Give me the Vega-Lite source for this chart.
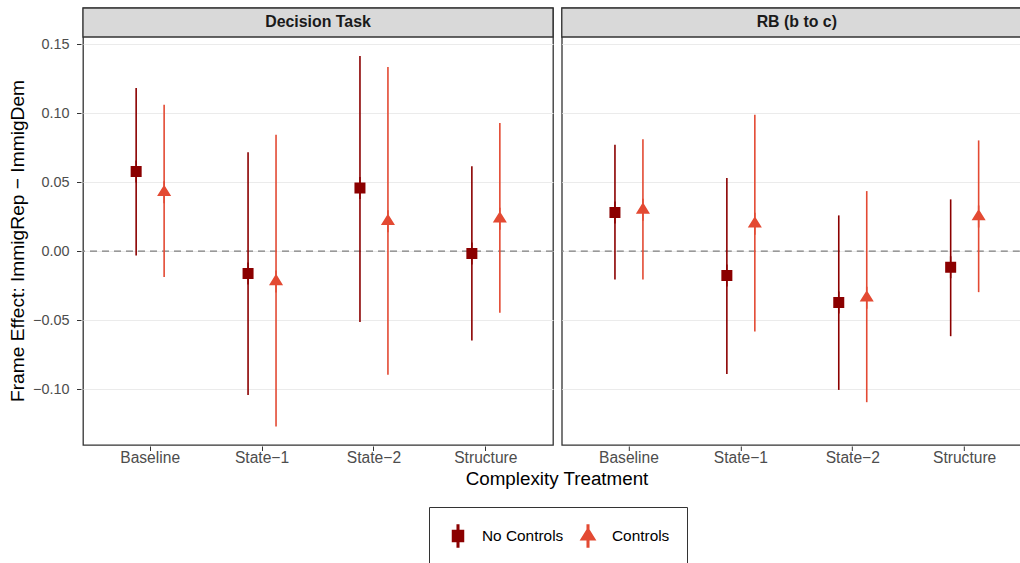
{
  "$schema": "https://vega.github.io/schema/vega-lite/v6.json",
  "padding": {"left": 8, "top": 6, "right": 0, "bottom": 0},
  "background": "white",
  "spacing": 4.8,
  "config": {
    "font": "Liberation Sans",
    "view": {"stroke": "#333333", "strokeWidth": 1.3},
    "axis": {"titleFontWeight": "normal", "titleColor": "#000000", "labelColor": "#4D4D4D", "tickColor": "#333333", "tickSize": 4.5, "domain": false},
    "legend": {"orient": "none", "legendX": 346, "legendY": 499, "direction": "horizontal", "strokeColor": "#333333", "padding": 17, "labelFontSize": 15.4, "labelColor": "#000000", "symbolSize": 484, "columnPadding": 12, "labelOffset": 12}
  },
  "data": {
    "values": [
      {"panel": "Decision Task", "treatment": "Baseline", "model": "No Controls", "est": 0.0577, "lo": -0.0031, "hi": 0.1181},
      {"panel": "Decision Task", "treatment": "Baseline", "model": "Controls", "est": 0.0426, "lo": -0.0188, "hi": 0.106},
      {"panel": "Decision Task", "treatment": "State−1", "model": "No Controls", "est": -0.0162, "lo": -0.1041, "hi": 0.0717},
      {"panel": "Decision Task", "treatment": "State−1", "model": "Controls", "est": -0.0219, "lo": -0.127, "hi": 0.0843},
      {"panel": "Decision Task", "treatment": "State−2", "model": "No Controls", "est": 0.0457, "lo": -0.0514, "hi": 0.1413},
      {"panel": "Decision Task", "treatment": "State−2", "model": "Controls", "est": 0.0216, "lo": -0.0896, "hi": 0.1333},
      {"panel": "Decision Task", "treatment": "Structure", "model": "No Controls", "est": -0.0017, "lo": -0.0647, "hi": 0.0614},
      {"panel": "Decision Task", "treatment": "Structure", "model": "Controls", "est": 0.0234, "lo": -0.0447, "hi": 0.0928},
      {"panel": "RB (b to c)", "treatment": "Baseline", "model": "No Controls", "est": 0.028, "lo": -0.0205, "hi": 0.077},
      {"panel": "RB (b to c)", "treatment": "Baseline", "model": "Controls", "est": 0.0299, "lo": -0.0205, "hi": 0.081},
      {"panel": "RB (b to c)", "treatment": "State−1", "model": "No Controls", "est": -0.0176, "lo": -0.0889, "hi": 0.0529},
      {"panel": "RB (b to c)", "treatment": "State−1", "model": "Controls", "est": 0.0198, "lo": -0.0582, "hi": 0.0988},
      {"panel": "RB (b to c)", "treatment": "State−2", "model": "No Controls", "est": -0.0372, "lo": -0.1005, "hi": 0.0259},
      {"panel": "RB (b to c)", "treatment": "State−2", "model": "Controls", "est": -0.0337, "lo": -0.1094, "hi": 0.0435},
      {"panel": "RB (b to c)", "treatment": "Structure", "model": "No Controls", "est": -0.0116, "lo": -0.0616, "hi": 0.0375},
      {"panel": "RB (b to c)", "treatment": "Structure", "model": "Controls", "est": 0.0251, "lo": -0.0297, "hi": 0.0802}
    ]
  },
  "facet": {
    "column": {
      "field": "panel", "type": "nominal",
      "header": {"labels": false, "title": "Complexity Treatment", "titleOrient": "bottom", "titleFontSize": 18.8, "titleFontWeight": "normal", "titleColor": "#000000", "titlePadding": -7}
    }
  },
  "spec": {
    "width": 470, "height": 437,
    "layer": [
      {
        "transform": [{"filter": "datum.treatment === 'Baseline' && datum.model === 'No Controls'"}],
        "mark": {"type": "rect", "fill": "#D9D9D9", "stroke": "#333333", "strokeWidth": 1.3},
        "encoding": {
          "y": {"datum": 0.1551, "type": "quantitative", "scale": {"domain": [-0.1404, 0.1761], "nice": false, "zero": false}},
          "y2": {"datum": 0.1761}
        }
      },
      {
        "transform": [{"filter": "datum.treatment === 'Baseline' && datum.model === 'No Controls'"}],
        "mark": {"type": "rule", "color": "#7F7F7F", "strokeWidth": 1.3, "strokeDash": [7, 5]},
        "encoding": {"y": {"datum": 0, "type": "quantitative"}}
      },
      {
        "mark": {"type": "rule", "strokeWidth": 1.6},
        "encoding": {
          "x": {"field": "treatment", "type": "nominal", "sort": ["Baseline", "State−1", "State−2", "Structure"], "scale": {"paddingInner": 0, "paddingOuter": 0.1},
                "axis": {"title": null, "labelFontSize": 15.6, "labelAngle": 0, "labelPadding": 0, "grid": false}},
          "xOffset": {"field": "model", "type": "nominal", "sort": ["No Controls", "Controls"], "scale": {"paddingInner": 0, "paddingOuter": 1.24}},
          "y": {"field": "lo", "type": "quantitative",
                "axis": {"title": "Frame Effect: ImmigRep − ImmigDem", "titleFontSize": 19.2, "titlePadding": 5, "titleY": 232.5, "values": [-0.1, -0.05, 0, 0.05, 0.1, 0.15], "format": ".2f", "labelFontSize": 14.4, "labelPadding": 7.5, "grid": true, "gridColor": "#EBEBEB", "gridWidth": 1}},
          "y2": {"field": "hi"},
          "color": {"field": "model", "type": "nominal", "scale": {"domain": ["No Controls", "Controls"], "range": ["#8B0000", "#E34A33"]}, "legend": {"title": null}}
        }
      },
      {
        "mark": {"type": "point", "filled": true, "size": 484, "opacity": 1},
        "encoding": {
          "x": {"field": "treatment", "type": "nominal", "sort": ["Baseline", "State−1", "State−2", "Structure"]},
          "xOffset": {"field": "model", "type": "nominal", "sort": ["No Controls", "Controls"]},
          "y": {"field": "est", "type": "quantitative"},
          "color": {"field": "model", "type": "nominal", "legend": {"title": null}},
          "shape": {"field": "model", "type": "nominal", "scale": {"domain": ["No Controls", "Controls"], "range": ["M-0.5,-0.5L0.5,-0.5L0.5,0.5L-0.5,0.5Z M-0.07,-1L0.07,-1L0.07,1L-0.07,1Z", "M0,-0.685L0.64,0.343L-0.64,0.343Z M-0.07,-1L0.07,-1L0.07,1L-0.07,1Z"]}, "legend": {"title": null}}
        }
      },
      {
        "transform": [{"filter": "datum.treatment === 'Baseline' && datum.model === 'No Controls'"}],
        "mark": {"type": "text", "fontWeight": "bold", "fontSize": 15.9, "color": "#1A1A1A", "baseline": "middle", "align": "center"},
        "encoding": {
          "y": {"datum": 0.1656, "type": "quantitative"},
          "text": {"field": "panel", "type": "nominal"}
        }
      }
    ]
  }
}
